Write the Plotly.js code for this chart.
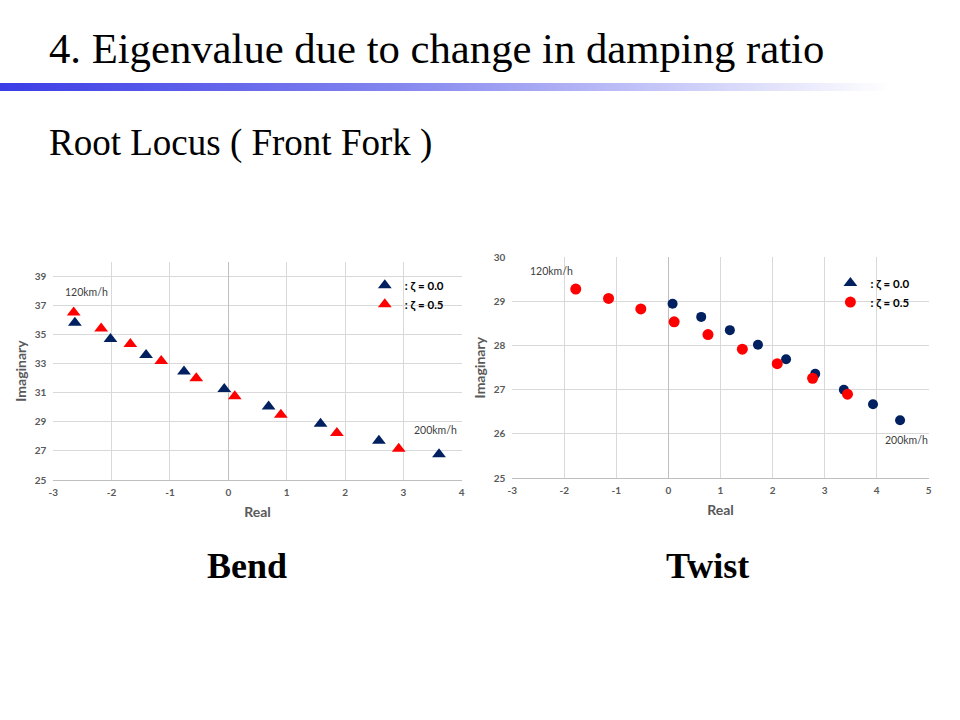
<!DOCTYPE html>
<html>
<head>
<meta charset="utf-8">
<script src="https://cdn.plot.ly/plotly-3.0.1.min.js"></script>
<style>
  html, body { margin: 0; padding: 0; background: #ffffff; }
  #wrap { position: relative; width: 960px; height: 720px; }
  #chart { width: 960px; height: 720px; }
  #bar { position: absolute; left: 0; top: 83px; width: 890px; height: 8px;
         background: linear-gradient(to right, #3a3ce6 0%, #8587ef 45%, #ffffff 100%);
         pointer-events: none; }
</style>
</head>
<body>
<div id="wrap">
  <div id="chart"></div>
  <div id="bar"></div>
</div>
<script>
// ---- Bend (left chart) ----
const bendZeta0Real = [-2.63, -2.02, -1.41, -0.76, -0.07, 0.69, 1.58, 2.58, 3.61];
const bendZeta0Imag = [35.82, 34.70, 33.60, 32.46, 31.27, 30.06, 28.87, 27.70, 26.78];
const bendZeta5Real = [-2.65, -2.18, -1.68, -1.15, -0.55, 0.11, 0.90, 1.86, 2.92];
const bendZeta5Imag = [36.53, 35.43, 34.36, 33.19, 32.00, 30.77, 29.49, 28.23, 27.15];

// ---- Twist (right chart) ----
const twistZeta0Real = [0.08, 0.63, 1.18, 1.72, 2.26, 2.82, 3.37, 3.93, 4.45];
const twistZeta0Imag = [28.95, 28.65, 28.35, 28.02, 27.69, 27.36, 27.00, 26.67, 26.31];
const twistZeta5Real = [-1.78, -1.15, -0.53, 0.11, 0.76, 1.42, 2.09, 2.77, 3.44];
const twistZeta5Imag = [29.28, 29.07, 28.83, 28.54, 28.25, 27.92, 27.59, 27.26, 26.90];

// ---- tick labels ----
const bendXTicks = [-3, -2, -1, 0, 1, 2, 3, 4];
const bendXTickText = ['-3', '-2', '-1', '0', '1', '2', '3', '4'];
const twistXTicks = [-3, -2, -1, 0, 1, 2, 3, 4, 5];
const twistXTickText = ['-3', '-2', '-1', '0', '1', '2', '3', '4', '5'];

const legendLabels = [': ζ = 0.0', ': ζ = 0.5'];
const speedLabels = ['120km/h', '200km/h'];
const pageTitle = '4. Eigenvalue due to change in damping ratio';
const pageSubtitle = 'Root Locus ( Front Fork )';
const chartNames = ['Bend', 'Twist'];
const axisTitles = ['Real', 'Imaginary'];

const NAVY = '#002060';
const RED = '#ff0000';
const GRID = '#d9d9d9';
const AXCOL = '#bfbfbf';
const TXT = '#595959';

const traces = [
  { x: bendZeta0Real, y: bendZeta0Imag, xaxis: 'x', yaxis: 'y', mode: 'markers', type: 'scatter',
    name: legendLabels[0], legend: 'legend',
    marker: { symbol: 'triangle-up', size: 12, color: NAVY } },
  { x: bendZeta5Real, y: bendZeta5Imag, xaxis: 'x', yaxis: 'y', mode: 'markers', type: 'scatter',
    name: legendLabels[1], legend: 'legend',
    marker: { symbol: 'triangle-up', size: 12, color: RED } },
  // legend-only entry (the original's legend shows a triangle for ζ = 0.0)
  { x: [null], y: [null], xaxis: 'x2', yaxis: 'y2', mode: 'markers', type: 'scatter',
    name: legendLabels[0], legend: 'legend2',
    marker: { symbol: 'triangle-up', size: 12, color: NAVY } },
  { x: twistZeta0Real, y: twistZeta0Imag, xaxis: 'x2', yaxis: 'y2', mode: 'markers', type: 'scatter',
    name: legendLabels[0], showlegend: false,
    marker: { symbol: 'circle', size: 10, color: NAVY } },
  { x: twistZeta5Real, y: twistZeta5Imag, xaxis: 'x2', yaxis: 'y2', mode: 'markers', type: 'scatter',
    name: legendLabels[1], legend: 'legend2',
    marker: { symbol: 'circle', size: 11, color: RED } }
];

const tickFont = { family: 'Lato', size: 10, color: TXT, weight: 'bold' };
const axTitleFont = { family: 'Lato', size: 14, color: TXT, weight: 'bold' };

function xAxis(domain, range, anchor, vals, texts) {
  return { domain: domain, range: range, anchor: anchor,
    tickmode: 'array', tickvals: vals, ticktext: texts,
    showgrid: true, gridcolor: GRID, gridwidth: 1,
    zeroline: true, zerolinecolor: AXCOL, zerolinewidth: 1,
    showline: true, linecolor: AXCOL, linewidth: 1,
    ticks: '', tickfont: tickFont, ticklabelstandoff: 3,
    fixedrange: true,
    title: { text: axisTitles[0], font: axTitleFont, standoff: 10 } };
}
function yAxis(domain, range, dtick, anchor) {
  return { domain: domain, range: range, anchor: anchor, tick0: 25, dtick: dtick,
    showgrid: true, gridcolor: GRID, gridwidth: 1,
    zeroline: false, showline: false,
    ticks: '', tickfont: tickFont, ticklabelstandoff: 6,
    fixedrange: true,
    title: { text: axisTitles[1], font: axTitleFont, standoff: 4 } };
}

const speedFont = { family: 'Lato', size: 10.5, color: '#404040' };
const serif = 'Liberation Serif';

const layout = {
  width: 960, height: 720,
  margin: { l: 0, r: 0, t: 0, b: 0 },
  paper_bgcolor: '#ffffff', plot_bgcolor: '#ffffff',
  xaxis: xAxis([0.0555, 0.481], [-3, 4], 'y', bendXTicks, bendXTickText),
  yaxis: yAxis([0.3333, 0.6361], [25, 40], 2, 'x'),
  xaxis2: xAxis([0.5336, 0.9674], [-3, 5], 'y2', twistXTicks, twistXTickText),
  yaxis2: yAxis([0.3361, 0.6426], [25, 30], 1, 'x2'),
  legend: { x: 0.380, y: 0.624, xanchor: 'left', yanchor: 'top',
    bgcolor: 'rgba(0,0,0,0)', tracegroupgap: 0,
    font: { family: 'Lato', size: 11.5, color: '#000000', weight: 'bold' } },
  legend2: { x: 0.865, y: 0.627, xanchor: 'left', yanchor: 'top',
    bgcolor: 'rgba(0,0,0,0)', tracegroupgap: 0,
    font: { family: 'Lato', size: 11.5, color: '#000000', weight: 'bold' } },
  annotations: [
    { text: pageTitle, xref: 'paper', yref: 'paper', x: 47 / 960, y: 1 - 49 / 720,
      xanchor: 'left', yanchor: 'middle', showarrow: false,
      font: { family: serif, size: 42.7, color: '#000000' } },
    { text: pageSubtitle, xref: 'paper', yref: 'paper', x: 47 / 960, y: 1 - 143 / 720,
      xanchor: 'left', yanchor: 'middle', showarrow: false,
      font: { family: serif, size: 37, color: '#000000' } },
    { text: chartNames[0], xref: 'paper', yref: 'paper', x: 247 / 960, y: 1 - 566 / 720,
      xanchor: 'center', yanchor: 'middle', showarrow: false,
      font: { family: serif, size: 36, color: '#000000', weight: 'bold' } },
    { text: chartNames[1], xref: 'paper', yref: 'paper', x: 707 / 960, y: 1 - 566 / 720,
      xanchor: 'center', yanchor: 'middle', showarrow: false,
      font: { family: serif, size: 36, color: '#000000', weight: 'bold' } },
    { text: speedLabels[0], xref: 'x', yref: 'y', x: -2.83, y: 37.93,
      xanchor: 'left', yanchor: 'middle', showarrow: false, font: speedFont },
    { text: speedLabels[1], xref: 'x', yref: 'y', x: 3.15, y: 28.43,
      xanchor: 'left', yanchor: 'middle', showarrow: false, font: speedFont },
    { text: speedLabels[0], xref: 'x2', yref: 'y2', x: -2.7, y: 29.69,
      xanchor: 'left', yanchor: 'middle', showarrow: false, font: speedFont },
    { text: speedLabels[1], xref: 'x2', yref: 'y2', x: 4.13, y: 25.85,
      xanchor: 'left', yanchor: 'middle', showarrow: false, font: speedFont }
  ]
};

Plotly.newPlot('chart', traces, layout, { displayModeBar: false, staticPlot: true });
</script>
</body>
</html>
